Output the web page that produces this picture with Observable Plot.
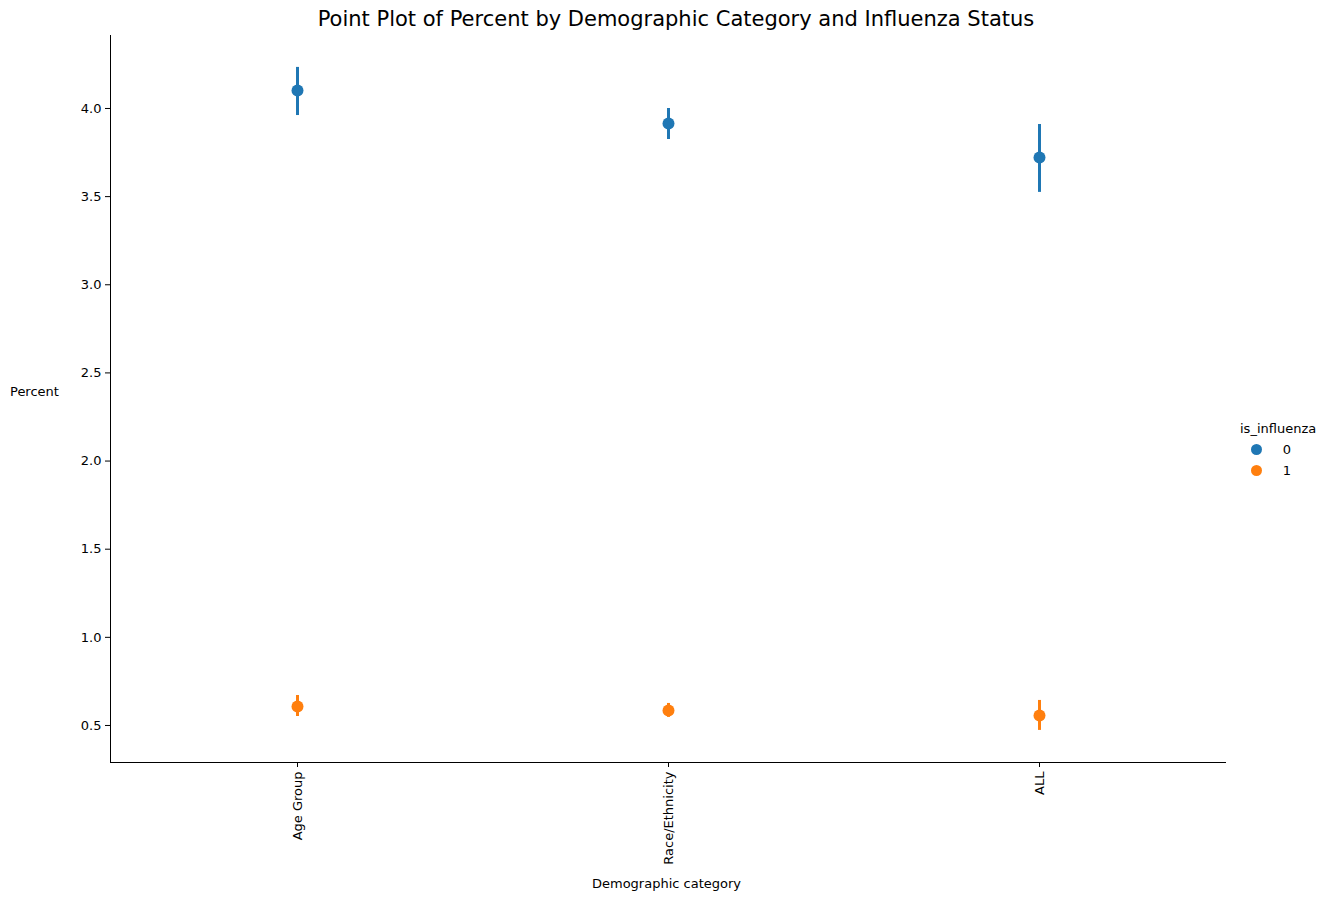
<!DOCTYPE html>
<html>
<head>
<meta charset="utf-8">
<script src="https://cdn.jsdelivr.net/npm/d3@7"></script>
<script src="https://cdn.jsdelivr.net/npm/@observablehq/plot@0.6"></script>
<style>
  body { margin: 0; background: white; font-family: "DejaVu Sans", sans-serif; }
  #wrap { position: relative; width: 1333px; height: 901px; }
  .abs { position: absolute; color: black; }
</style>
</head>
<body>
<div id="wrap">
  <div id="chart"></div>
  <div class="abs" style="left:0;width:1352px;top:7px;text-align:center;font-size:21px;">Point Plot of Percent by Demographic Category and Influenza Status</div>
  <div class="abs" style="left:10px;top:384px;font-size:13px;">Percent</div>
  <div class="abs" style="left:0;width:1333px;top:876px;text-align:center;font-size:13px;">Demographic category</div>
  <div class="abs" style="left:1240px;top:421px;font-size:13px;">is_influenza</div>
  <div class="abs" style="left:1251px;top:442px;font-size:13px;"><span style="display:inline-block;width:11px;height:11px;border-radius:50%;background:#1f77b4;vertical-align:-1px"></span>&nbsp;&nbsp;&nbsp;&nbsp;&nbsp;0</div>
  <div class="abs" style="left:1251px;top:463px;font-size:13px;"><span style="display:inline-block;width:11px;height:11px;border-radius:50%;background:#ff7f0e;vertical-align:-1px"></span>&nbsp;&nbsp;&nbsp;&nbsp;&nbsp;1</div>
</div>
<script>
const categories = ["Age Group", "Race/Ethnicity", "ALL"];
const status = [0, 1];
const mean0 = [4.102, 3.915, 3.722];
const low0 = [3.96, 3.824, 3.524];
const high0 = [4.233, 4.0, 3.909];
const mean1 = [0.608, 0.585, 0.557];
const low1 = [0.551, 0.546, 0.472];
const high1 = [0.67, 0.625, 0.642];

const data = [];
categories.forEach((c, i) => {
  data.push({cat: c, s: "0", y: mean0[i], lo: low0[i], hi: high0[i]});
  data.push({cat: c, s: "1", y: mean1[i], lo: low1[i], hi: high1[i]});
});

const chart = Plot.plot({
  width: 1333,
  height: 901,
  marginLeft: 110,
  marginRight: 108,
  marginTop: 35,
  marginBottom: 139,
  style: { "font-size": "13px", "font-family": "DejaVu Sans", color: "black", background: "white" },
  x: { type: "point", domain: categories, padding: 0.5, label: null },
  y: { domain: [0.29, 4.414], label: null },
  color: { domain: ["0", "1"], range: ["#1f77b4", "#ff7f0e"] },
  marks: [
    Plot.ruleX(data, { x: "cat", y1: "lo", y2: "hi", stroke: "s", strokeWidth: 3 }),
    Plot.dot(data, { x: "cat", y: "y", fill: "s", r: 6 }),
    Plot.axisY({ ticks: d3.range(0.5, 4.01, 0.5), tickFormat: d3.format(".1f"), tickSize: 5, fontSize: 13 }),
    Plot.axisX({ tickRotate: -90, tickSize: 5, fontSize: 13, tickPadding: 4 }),
    Plot.frame({ anchor: "left" }),
    Plot.frame({ anchor: "bottom" })
  ]
});
d3.select("#chart").append(() => chart);
</script>
</body>
</html>
